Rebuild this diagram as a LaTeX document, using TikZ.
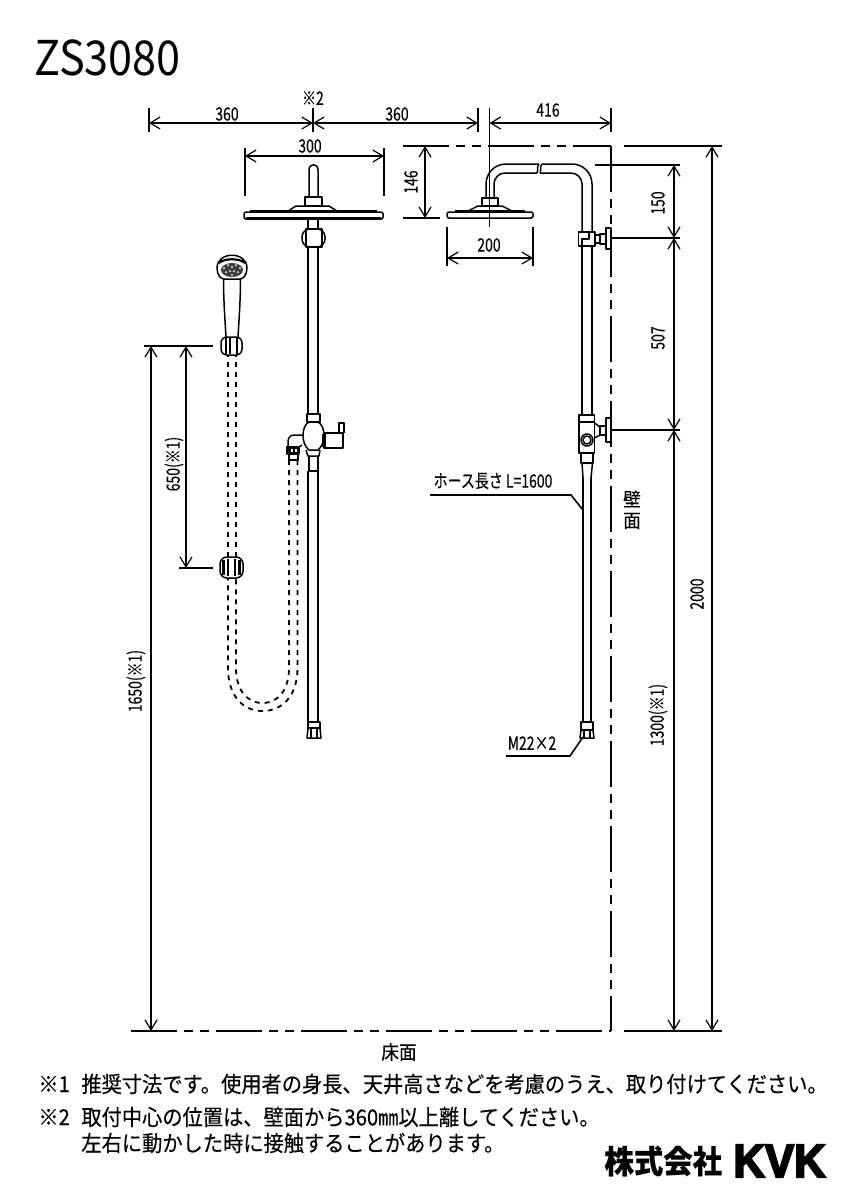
\documentclass[tikz,border=0pt]{standalone}
\usepackage{fontspec}
\setmainfont{Noto Sans CJK JP}[FakeStretch=0.76,FakeBold=0.25]
\newfontfamily\notefont{Noto Sans CJK JP}[FakeStretch=0.92,FakeBold=0.2]
\newfontfamily\titlefont{Noto Sans CJK JP}[FakeStretch=0.9]
\newfontfamily\logofont{Liberation Sans}[BoldFeatures={FakeBold=4,FakeStretch=0.93}]
\usetikzlibrary{arrows.meta}
\tikzset{
  part/.style={line width=0.75pt,line join=round},
  dimline/.style={line width=0.7pt,{Straight Barb[length=5pt,width=6pt,line width=0.6pt]}-{Straight Barb[length=5pt,width=6pt,line width=0.6pt]}},
  extline/.style={line width=0.8pt},
  wall/.style={line width=0.9pt,dash pattern=on 23pt off 3.5pt on 4.5pt off 3.5pt on 4.5pt off 3.5pt},
  hose/.style={line width=0.9pt,dash pattern=on 2.5pt off 2.5pt},
  dimtext/.style={inner sep=0pt,font=\fontsize{9.2}{10}\selectfont},
  bigtext/.style={inner sep=0pt,font=\notefont\fontsize{9.6}{10}\selectfont},
  note/.style={inner sep=0pt,anchor=west,font=\notefont\fontsize{11}{12}\selectfont},
}
\begin{document}
\begin{tikzpicture}[x=0.5pt,y=-0.5pt]
\useasboundingbox[fill=white] (0,0) rectangle (849,1200);
% title
\node[inner sep=0pt,anchor=west,font=\titlefont\fontsize{24}{26}\selectfont] (title) at (34,58) {ZS3080};

% wall and floor
\coordinate (ceilL) at (403,146);
\coordinate (ceilC) at (611,146);
\coordinate (ceilA) at (624,146);
\coordinate (ceilB) at (722,146);
\coordinate (floorL) at (131,1031);
\coordinate (floorC) at (611,1031);
\coordinate (floorA) at (624,1031);
\coordinate (floorB) at (722,1031);
\draw[wall] (ceilL) -- (ceilC);
\draw[wall] (ceilC) -- (floorC);
\draw[wall] (floorL) -- (floorC);
\draw[extline] (ceilA) -- (ceilB);
\draw[extline] (floorA) -- (floorB);

% top dimensions
\coordinate (a1) at (149,123);
\coordinate (a2) at (313,123);
\coordinate (a3) at (478,123);
\coordinate (a4) at (489.5,123);
\coordinate (a5) at (611,123);
\draw[extline] (149,108) -- (149,132);
\draw[extline] (313,108) -- (313,132);
\draw[extline] (478,108) -- (478,132);
\draw[extline] (489.5,108) -- (489.5,227);
\draw[extline] (611,108) -- (611,132);
\draw[dimline] (a1) -- (a2);
\draw[dimline] (a2) -- (a3);
\draw[dimline] (a4) -- (a5);
\node[dimtext] (t360a) at (227,114) {360};
\node[dimtext] (t360b) at (397,114) {360};
\node[dimtext] (tkome) at (313,98) {※2};
\node[dimtext] (t416) at (548,110) {416};

\coordinate (b1) at (245,156);
\coordinate (b2) at (384,156);
\draw[extline] (245,148) -- (245,196);
\draw[extline] (384,148) -- (384,196);
\draw[dimline] (b1) -- (b2);
\node[dimtext] (t300) at (310,146) {300};

% front view, overhead shower
\draw[part] (309,197) -- (309,170) .. controls (309,163) and (318,163) .. (318,170) -- (318,197);
\draw[part] (305,197) rectangle (322,206);
\draw[part] (288,211) -- (296,206) -- (329,206) -- (337,211);
\draw[part,rounded corners=1pt] (244,212) rectangle (383,219);
\draw[line width=1.2pt] (250,211.5) -- (377,211.5);
\draw[line width=1.2pt] (246,218.5) -- (381,218.5);
\draw[part] (308,219) -- (308,229) (318,219) -- (318,229);
\draw[part,rounded corners=4pt] (302,229) rectangle (325,247);
\draw[part] (306,229) rectangle (322,247);

% front view, riser and valve
\draw[part] (308,247) -- (308,414) (318,247) -- (318,414);
\draw[part] (307,414) rectangle (320,422);
\draw[part] (309,422) .. controls (301,426) and (301,444) .. (309,450) -- (318,450) .. controls (326,444) and (326,426) .. (318,422);
\draw[part] (324,433) rectangle (343,448);
\draw[line width=1.6pt] (324,434) -- (324,447);
\draw[part] (339,433) -- (339,423) -- (344,423) -- (344,433);
\draw[part] (303,435) -- (294,435) .. controls (290,435) and (288,438) .. (288,442) -- (288,447) (299,447) -- (302,445);
\draw[part] (287,447) rectangle (299,454);
\fill (288,448) rectangle (298,453);
\foreach \nx in {291,295} \fill[white] (\nx,449) rectangle (\nx+1.5,452);
\draw[part] (289,454) rectangle (298,460);
\draw[part] (306,450) -- (308,456) -- (319,456) -- (320,450);
\draw[part] (309,456) -- (309,471) -- (318,471) -- (318,456);
\draw[part] (308,471) -- (308,722) (318,471) -- (318,722);
\draw[part] (308,722) rectangle (320,728);
\draw[part] (307,738) -- (308,728) -- (320,728) -- (321,738) -- cycle;
\draw[part] (311,728) -- (311,738) (317,728) -- (317,738);

% hose
\draw[hose] (289,460) -- (289,668) .. controls (289,690) and (278,703) .. (262.5,703) .. controls (247,703) and (236,690) .. (236,668) -- (236,578);
\draw[hose] (297.5,460) -- (297.5,668) .. controls (297.5,696) and (282,711) .. (262.5,711) .. controls (243,711) and (228,696) .. (228,668) -- (228,578);
\draw[hose] (228,557) -- (228,355) (236,557) -- (236,355);

% hand shower
\draw[part] (217,268) .. controls (217,251) and (247,251) .. (247,268) .. controls (247,275) and (243,279) .. (240,279) -- (224,279) .. controls (221,279) and (217,275) .. (217,268) -- cycle;
\draw[line width=1.1pt] (219,263) .. controls (224,258) and (240,258) .. (245,263);
\fill[black!75] (232,270) ellipse [x radius=11,y radius=7];
\foreach \dx/\dy in {224/268,228/265,232/267,236/265,240/268,226/272,230/271,234/271,238/272,232/275}
  \fill[white] (\dx,\dy) circle (0.5pt);
\draw[part] (223.5,279) .. controls (223.5,300) and (225,320) .. (226,337);
\draw[part] (240.5,279) .. controls (240.5,300) and (239,320) .. (238,337);
\draw[part,rounded corners=3pt] (221,337) rectangle (242,355);
\draw[line width=1.3pt] (226,338) -- (226,354) (237,338) -- (237,354);
\draw[line width=0.8pt] (230,338) -- (230,354);
\draw[part,rounded corners=3.5pt] (220,557) rectangle (243,578);
\draw[line width=1.8pt] (223.5,560) -- (223.5,575) (239.5,560) -- (239.5,575);
\draw[line width=1.2pt] (228,559) -- (228,576) (235,559) -- (235,576);

% left dimensions
\coordinate (c1) at (151,346);
\coordinate (c2) at (151,1031);
\coordinate (d1) at (186,346);
\coordinate (d2) at (186,568);
\draw[extline] (144,346) -- (213,346);
\draw[extline] (179,568) -- (213,568);
\draw[dimline] (c1) -- (c2);
\draw[dimline] (d1) -- (d2);
\node[dimtext,rotate=90] (t650) at (174,464) {650(※1)};
\node[dimtext,rotate=90] (t1650) at (136,681) {1650(※1)};

% side view, overhead shower
\draw[part] (482,198) rectangle (498,206);
\draw[part] (468,211) -- (478,206) -- (502,206) -- (512,211);
\draw[part,rounded corners=1pt] (447,212) rectangle (533,218);
\draw[line width=1.6pt] (455,211.5) -- (525,211.5);
\draw[part,rounded corners=10pt] (486,198) -- (486,164) -- (539,164);
\draw[part,rounded corners=5.5pt] (494,198) -- (494,173) -- (537,173);
\draw[part] (539,164) .. controls (536,168) and (539,169) .. (537,173);
\draw[part] (542,164) .. controls (539,168) and (542,169) .. (540,173);
\draw[part,rounded corners=10pt] (542,164) -- (592,164) -- (592,232);
\draw[part,rounded corners=5.5pt] (540,173) -- (582,173) -- (582,232);
% wall bracket, upper
\draw[part] (578.5,232) rectangle (595,246);
\draw[part] (582,246) -- (582,239) -- (589,239) -- (589,232);
\draw[part] (595,235) -- (600,235) -- (600,243) -- (595,243);
\draw[part] (600,234) rectangle (606,244);
\draw[part] (606,228) rectangle (611,249);
% lower pipe
\draw[part] (582,246) -- (582,415) (592,246) -- (592,415);
\draw[part] (579,415) rectangle (594.5,453);
\draw[part] (579,422) -- (594.5,422);
\draw[part] (587,440) circle (3pt);
\draw[part] (587,440) circle (2pt);
\draw[part] (594.5,423) -- (600,427) -- (600,435) -- (594.5,438);
\draw[part] (600,426) rectangle (606,435);
\draw[part] (606,418) rectangle (611,442);
\draw[part] (581,453) -- (581,463) -- (593,463) -- (593,453);
\draw[part] (582,463) -- (583,478) (592.5,463) -- (591,478);
\draw[part] (583,478) -- (583,722) (591,478) -- (591,722);
\draw[part] (581,722) rectangle (593,730);
\draw[part] (580,738) -- (581,730) -- (593,730) -- (594,738) -- cycle;
\draw[part] (584,730) -- (584,738) (590,730) -- (590,738);

% right dimensions
\coordinate (e1) at (674,165);
\coordinate (e2) at (674,238);
\coordinate (e3) at (674,430);
\coordinate (e4) at (674,1031);
\coordinate (f1) at (712,146);
\coordinate (f2) at (712,1031);
\draw[extline] (595,165) -- (680,165);
\draw[extline] (611,238) -- (680,238);
\draw[extline] (611,430) -- (680,430);
\draw[dimline] (e1) -- (e2);
\draw[dimline] (e2) -- (e3);
\draw[dimline] (e3) -- (e4);
\draw[dimline] (f1) -- (f2);
\node[dimtext,rotate=90] (t150) at (658,203) {150};
\node[dimtext,rotate=90] (t507) at (658,338) {507};
\node[dimtext,rotate=90] (t1300) at (658,715) {1300(※1)};
\node[dimtext,rotate=90] (t2000) at (697,594) {2000};

% upper left small dimensions
\coordinate (g1) at (425,146);
\coordinate (g2) at (425,218);
\draw[extline] (403,218) -- (440,218);
\draw[dimline] (g1) -- (g2);
\node[dimtext,rotate=90] (t146) at (411,182) {146};
\coordinate (h1) at (447,258);
\coordinate (h2) at (533,258);
\draw[extline] (447,227) -- (447,266);
\draw[extline] (533,227) -- (533,266);
\draw[dimline] (h1) -- (h2);
\node[dimtext] (t200) at (489,245) {200};

% leaders
\coordinate (p1) at (430,495);
\coordinate (p2) at (571,495);
\coordinate (p3) at (583,510);
\draw[extline] (p1) -- (p2) -- (p3);
\node[dimtext] (those) at (493,481) {ホース長さ L=1600};
\coordinate (q1) at (506,756);
\coordinate (q2) at (570,756);
\coordinate (q3) at (583,737);
\draw[extline] (q1) -- (q2) -- (q3);
\node[dimtext] (tm22) at (532,743) {M22×2};
\node[bigtext] (tkabe) at (632,499) {壁};
\node[bigtext] (tmen) at (632,521) {面};
\node[bigtext] (tyuka) at (399,1052) {床面};

% notes
\node[note] (n1a) at (38,1084) {※1};
\node[note] (n1b) at (81,1084) {推奨寸法です。使用者の身長、天井高さなどを考慮のうえ、取り付けてください。};
\node[note] (n2a) at (38,1117) {※2};
\node[note] (n2b) at (81,1117) {取付中心の位置は、壁面から360㎜以上離してください。};
\node[note] (n3) at (81,1143) {左右に動かした時に接触することがあります。};
\node[inner sep=0pt,anchor=west,font=\notefont\bfseries\fontsize{16}{17}\selectfont] (logoa) at (604,1161) {株式会社};
\node[inner sep=0pt,anchor=west,font=\logofont\bfseries\fontsize{23.5}{24}\selectfont] (logob) at (733,1161) {KVK};
\end{tikzpicture}
\end{document}
